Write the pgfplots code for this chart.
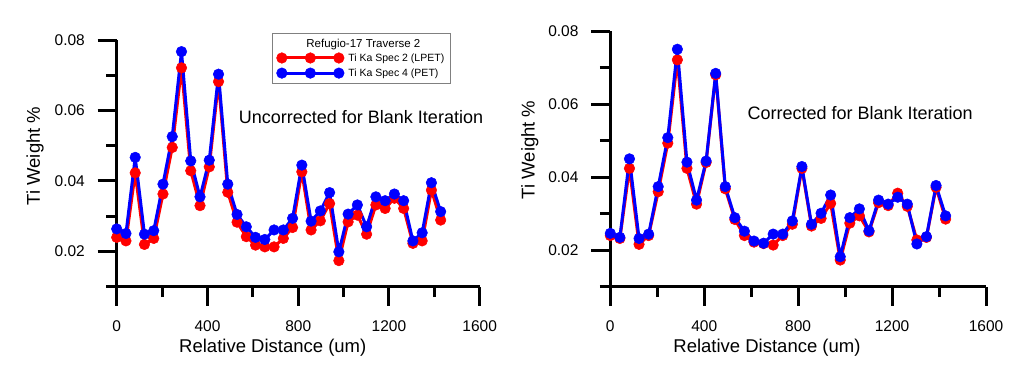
\documentclass[border=0pt]{standalone}
\usepackage{fontspec}
\setmainfont{Liberation Sans}
\usepackage{pgfplots}
\usepackage{pgfplotstable}
\pgfplotsset{compat=1.18}

\pgfplotstableread{
x      lr     lb     rr     rb
0      0.0240 0.0264 0.0240 0.0246
40.8   0.0230 0.0251 0.0232 0.0235
81.6   0.0423 0.0467 0.0424 0.0450
122.4  0.0220 0.0249 0.0216 0.0232
163.2  0.0237 0.0259 0.0240 0.0244
204    0.0363 0.0391 0.0360 0.0374
244.8  0.0495 0.0526 0.0493 0.0508
285.6  0.0721 0.0767 0.0721 0.0750
326.4  0.0429 0.0457 0.0424 0.0441
367.2  0.0330 0.0355 0.0326 0.0337
408    0.0440 0.0459 0.0440 0.0444
448.8  0.0682 0.0703 0.0680 0.0684
489.6  0.0368 0.0391 0.0368 0.0374
530.4  0.0283 0.0305 0.0284 0.0289
571.2  0.0242 0.0270 0.0240 0.0252
612    0.0218 0.0240 0.0222 0.0225
652.8  0.0213 0.0234 0.0218 0.0219
693.6  0.0213 0.0261 0.0214 0.0244
734.4  0.0237 0.0261 0.0240 0.0244
775.2  0.0268 0.0294 0.0271 0.0280
816    0.0426 0.0445 0.0424 0.0429
856.8  0.0261 0.0286 0.0266 0.0271
897.6  0.0287 0.0315 0.0287 0.0301
938.4  0.0336 0.0367 0.0328 0.0351
979.2  0.0174 0.0199 0.0173 0.0182
1020   0.0284 0.0306 0.0274 0.0289
1060.8 0.0303 0.0332 0.0294 0.0313
1101.6 0.0249 0.0270 0.0250 0.0253
1142.4 0.0332 0.0355 0.0330 0.0337
1183.2 0.0322 0.0344 0.0322 0.0326
1224   0.0351 0.0363 0.0356 0.0345
1264.8 0.0322 0.0344 0.0320 0.0326
1305.6 0.0223 0.0230 0.0228 0.0217
1346.4 0.0230 0.0253 0.0235 0.0237
1387.2 0.0374 0.0395 0.0372 0.0377
1428   0.0289 0.0313 0.0285 0.0294
}\data

\pgfplotsset{
  mystyle/.style={
    scale only axis,
    line width=3pt,
    xmin=0, xmax=1600, ymin=0.01, ymax=0.08,
    axis x line=bottom, axis y line=left,
    axis line style={-, draw=black, line width=3pt},
    x axis line style={-, draw=black, line width=3pt},
    y axis line style={-, draw=black, line width=3pt},
    tick align=outside,
    xtick={0,400,...,1600}, minor xtick={200,600,1000,1400},
    ytick={0.02,0.04,0.06,0.08}, minor ytick={0.01,0.03,0.05,0.07},
    major tick length=19pt, minor tick length=10.5pt,
    every tick/.style={draw=black, line width=3pt},
    major tick style={draw=black, line width=3pt},
    minor tick style={draw=black, line width=3pt},
    x tick style={draw=black, line width=3pt},
    y tick style={draw=black, line width=3pt},
    tick label style={font=\fontsize{15.5}{18}\selectfont},
    /pgf/number format/assume math mode=true,
    xticklabel style={yshift=-10pt, /pgf/number format/1000 sep={}},
    yticklabel style={xshift=-8pt, /pgf/number format/.cd, fixed, fixed zerofill, precision=2},
    scaled y ticks=false, scaled x ticks=false,
    label style={font=\fontsize{18.5}{21}\selectfont},
    xlabel={Relative Distance (um)},
    ylabel={Ti Weight \%},
    clip=false,
  },
  redline/.style={red, line width=3pt, line join=round, mark=*, mark size=5.3pt, mark options={solid, fill=red, line width=0.5pt}},
  blueline/.style={blue, line width=3pt, line join=round, mark=*, mark size=5.3pt, mark options={solid, fill=blue, line width=0.5pt}},
}

\begin{document}
\begin{tikzpicture}
\useasboundingbox (0pt,0pt) rectangle (1024pt,-382pt);

\begin{axis}[mystyle,
  at={(116.7pt,-286.7pt)}, anchor=south west,
  width=363pt, height=246.7pt,
  xlabel style={at={(axis description cs:0.43,-0.248)}, anchor=center},
  ylabel style={at={(axis description cs:-0.225,0.53)}, anchor=center},
  legend style={at={(axis description cs:0.428,1.028)}, anchor=north west,
    draw=gray, line width=1pt, font=\fontsize{10.5}{12.5}\selectfont,
    inner xsep=4pt, inner ysep=4pt, row sep=2pt},
  legend cell align=left,
  legend image code/.code={\draw[mark repeat=1,mark phase=1,#1] plot coordinates {(0pt,0pt) (28.5pt,0pt) (57pt,0pt)}; \path (63pt,0pt);},
]
\addlegendimage{empty legend}
\addlegendentry{\raisebox{-2pt}{\makebox[0pt][l]{\hspace*{-42pt}\fontsize{11.5}{12.5}\selectfont Refugio-17 Traverse 2}}}
\addplot[redline] table[x=x, y=lr] {\data};
\addlegendentry{Ti Ka Spec 2 (LPET)}
\addplot[blueline] table[x=x, y=lb] {\data};
\addlegendentry{Ti Ka Spec 4 (PET)}
\node[font=\fontsize{18}{21}\selectfont] at (axis description cs:0.673,0.688) {Uncorrected for Blank Iteration};
\end{axis}

\begin{axis}[mystyle,
  at={(610.3pt,-286.7pt)}, anchor=south west,
  width=375.7pt, height=255.7pt,
  xlabel style={at={(axis description cs:0.417,-0.24)}, anchor=center},
  ylabel style={at={(axis description cs:-0.214,0.535)}, anchor=center},
]
\addplot[redline] table[x=x, y=rr] {\data};
\addplot[blueline] table[x=x, y=rb] {\data};
\node[font=\fontsize{18}{21}\selectfont] at (axis description cs:0.665,0.679) {Corrected for Blank Iteration};
\end{axis}
\end{tikzpicture}
\end{document}
